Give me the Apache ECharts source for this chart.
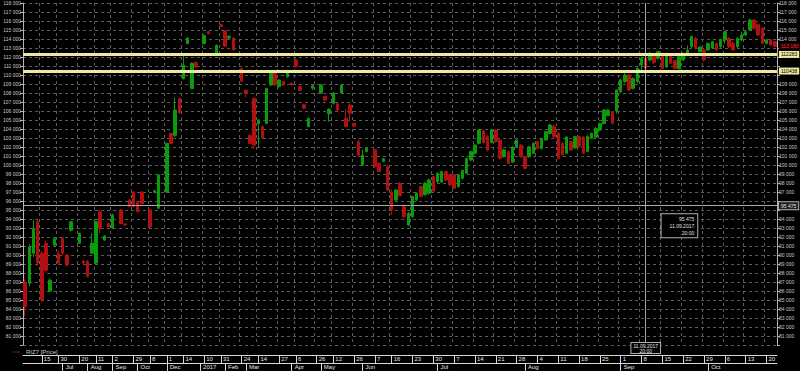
<!DOCTYPE html>
<html>
<head>
<meta charset="utf-8">
<script src="https://cdn.jsdelivr.net/npm/echarts@6/dist/echarts.min.js"></script>
<style>
html,body{margin:0;padding:0;background:#000;}
#chart{width:800px;height:371px;}
</style>
</head>
<body>
<div id="chart"></div>
<script>
const dates = [
'2016-06-06','2016-06-08','2016-06-09','2016-06-14','2016-06-15','2016-06-17','2016-06-21','2016-06-28','2016-06-30','2016-07-05',
'2016-07-08','2016-07-13','2016-07-18','2016-07-20','2016-07-26','2016-08-02','2016-08-05','2016-08-11','2016-08-17','2016-08-23',
'2016-08-30','2016-09-02','2016-09-08','2016-09-14','2016-09-20','2016-09-26','2016-09-29','2016-10-05','2016-10-12','2016-10-24',
'2016-11-08','2016-11-16','2016-11-22','2016-11-29','2016-12-01','2016-12-05','2016-12-07','2016-12-12','2016-12-14','2016-12-20',
'2016-12-26','2016-12-29','2017-01-09','2017-01-10','2017-01-16','2017-01-20','2017-01-26','2017-01-31','2017-02-03','2017-02-07',
'2017-02-10','2017-02-15','2017-02-24','2017-03-01','2017-03-03','2017-03-09','2017-03-14','2017-03-16','2017-03-20','2017-03-22',
'2017-03-24','2017-03-27','2017-03-29','2017-03-31','2017-04-04','2017-04-06','2017-04-10','2017-04-13','2017-04-18','2017-04-21',
'2017-04-26','2017-05-02','2017-05-04','2017-05-10','2017-05-12','2017-05-16','2017-05-18','2017-05-22','2017-05-24','2017-05-26',
'2017-05-31','2017-06-01','2017-06-02','2017-06-06','2017-06-07','2017-06-09','2017-06-13','2017-06-15','2017-06-16','2017-06-19',
'2017-06-20','2017-06-21','2017-06-22','2017-06-23','2017-06-26','2017-06-27','2017-06-28','2017-06-29','2017-06-30','2017-07-03',
'2017-07-04','2017-07-05','2017-07-06','2017-07-07','2017-07-10','2017-07-11','2017-07-12','2017-07-13','2017-07-14','2017-07-17',
'2017-07-18','2017-07-19','2017-07-20','2017-07-21','2017-07-24','2017-07-25','2017-07-26','2017-07-27','2017-07-28','2017-07-31',
'2017-08-01','2017-08-02','2017-08-03','2017-08-04','2017-08-07','2017-08-08','2017-08-09','2017-08-10','2017-08-11','2017-08-14',
'2017-08-15','2017-08-16','2017-08-17','2017-08-18','2017-08-21','2017-08-22','2017-08-23','2017-08-24','2017-08-25','2017-08-28',
'2017-08-29','2017-08-30','2017-08-31','2017-09-01','2017-09-04','2017-09-05','2017-09-06','2017-09-07','2017-09-08','2017-09-11',
'2017-09-12','2017-09-13','2017-09-14','2017-09-15','2017-09-18','2017-09-19','2017-09-20','2017-09-21','2017-09-22','2017-09-25',
'2017-09-26','2017-09-27','2017-09-28','2017-09-29','2017-10-02','2017-10-03','2017-10-04','2017-10-05','2017-10-06','2017-10-09',
'2017-10-10','2017-10-11','2017-10-12','2017-10-13','2017-10-16','2017-10-17','2017-10-18','2017-10-19','2017-10-20','2017-10-23',
'2017-10-24'
];
const opens = [
87000,86850,90200,93700,90200,91300,86000,91100,90200,91850,
90000,92750,null,91300,89300,89300,90200,89100,94800,91650,
93500,93000,null,95000,93450,96100,97000,95900,97000,null,
95000,96950,95200,null,97000,103500,103300,107400,109600,113500,
108500,111400,null,113500,114800,null,112400,115600,114900,114100,
114100,null,110700,108300,103300,107400,104600,104250,104630,108890,
110370,108704,109260,109800,109100,111667,108700,106700,104259,108519,
null,108000,107600,105700,106852,106800,108000,105200,106667,104600,
102600,100000,101500,null,101700,100185,100400,99800,97000,96111,
97963,95370,93333,94260,96111,97600,96700,96852,98704,98148,
98100,99260,98900,98900,97593,98518,99074,100556,101296,102407,
103800,103148,102500,103889,102778,100926,101480,100300,102037,102222,
100926,100926,101296,102593,101852,102778,103518,104300,103500,102407,
101300,102593,101900,103148,103100,101500,102963,103100,103889,104600,
105500,105926,106000,108148,109259,110000,108519,109259,111111,111852,
111667,112222,111852,112407,110900,112222,111600,110700,111667,112222,
113148,114074,112600,112778,112778,113000,113500,113148,113889,114074,
113518,113148,113889,114444,115000,116111,115600,115200,113500,113900,
113700
];
const closes = [
84250,90900,92960,89100,85000,88300,87200,91800,89100,90200,
88900,93700,null,92400,89100,87600,91300,93700,92960,92100,
93150,94450,null,93500,93330,95400,95400,94800,95700,null,
93150,97150,98900,null,102400,102400,106100,105800,111100,114100,
111300,110900,null,114400,114600,null,113300,115400,113200,114300,
112800,null,109300,107950,102400,102200,105000,103000,108500,110185,
108890,109444,108900,110200,108900,110926,108300,106300,105185,108800,
null,108900,107200,106200,108000,106100,108900,104260,105741,104300,
101111,101111,101850,null,99815,99259,100700,97222,95000,97222,
96600,94260,94630,96500,96852,96500,97960,98333,97100,99074,
99260,98333,97778,97407,98889,99400,100740,101480,102222,103889,
102500,101667,103889,102593,100741,101667,100185,102000,102778,100926,
99630,102037,102407,101852,102963,103700,104444,103148,100741,101111,
103100,101667,103148,102037,101296,103200,103518,104074,104630,106111,
106100,104630,108333,109444,110000,108333,109630,110741,111852,110741,
112407,111400,112593,110741,112400,111296,110741,112037,112407,112778,
114259,112963,113100,111667,113518,113700,112800,113889,114815,113148,
112778,114074,114444,114815,116111,115185,114444,113518,113900,113333,
113180
];
const lows = [
83200,86500,89800,88800,84800,88000,85900,90900,88900,90000,
88700,92600,null,91200,89000,87500,90100,89000,92400,91600,
93100,92900,null,93400,93300,95300,95300,94700,95600,null,
93000,96900,95100,null,96900,102300,103100,105700,109500,113400,
108400,110800,null,113400,114500,null,112300,115300,113100,114000,
112700,null,109200,107500,102300,101800,102000,102900,104500,108800,
108800,108600,108800,109700,108800,110800,108200,106200,104200,108300,
null,107900,107100,104800,106700,106000,107900,104200,104800,104200,
100900,99900,101400,null,99700,99200,100300,97100,94444,96000,
96500,94100,93200,94100,96000,96400,96600,96700,97000,98000,
98000,98200,97700,97300,97500,98400,99000,100400,101200,102300,
102300,101500,102400,102500,100600,100800,100100,100200,101900,100800,
99500,100800,101200,101700,101700,102700,103400,103000,100600,101000,
101200,101600,101800,101900,101200,101400,102900,103000,103800,104500,
105400,104500,105700,108000,109100,108200,108400,109100,110500,110600,
111500,111200,111700,110600,110800,111200,110600,110600,111600,112100,
113000,112800,112500,111500,112700,112900,112700,113000,113500,113000,
112700,113000,113800,114300,114900,115000,114300,113400,113400,113200,
113100
];
const highs = [
87300,91200,93900,93900,90500,91600,87400,92000,90500,92000,
90100,93800,null,92500,89400,89450,92400,93800,95000,92200,
93600,94600,null,95100,93500,96200,97100,96000,97100,null,
95100,97200,99000,null,102500,103600,107500,107500,112200,114200,
111400,111500,null,114500,114900,null,113400,115700,115000,114400,
114200,null,110800,108400,103400,107500,105100,104400,108600,110400,
110500,109500,109300,110300,109200,111800,108800,106800,105300,109000,
null,109000,107700,106300,108100,106900,109000,106200,106800,104700,
102800,101700,101900,null,101800,100300,100800,100000,97300,97300,
98100,95500,94800,96600,97000,97700,98100,98500,98800,99200,
99400,99400,99000,99000,99000,99500,100800,101600,102300,104000,
103900,103300,104000,104000,102900,101800,101600,102100,102900,102300,
101000,102100,102500,102700,103000,103800,104600,104500,103700,102500,
103200,102700,103200,103300,103200,103300,103600,104200,104700,106200,
106200,106000,108400,109600,110200,110100,109700,110900,112000,112000,
112600,112400,112700,112500,112500,112400,111700,112100,112500,113300,
114400,114200,113200,113000,113600,113800,113600,114000,114900,114200,
113700,114200,114800,114900,116300,116200,115700,115300,114000,114000,
113800
];
const dayTickDates = ['2016-06-15','2016-06-30','2016-07-20','2016-08-11','2016-09-02','2016-09-29','2016-11-08','2016-12-01','2016-12-14',
'2017-01-10','2017-01-31','2017-02-24','2017-03-14','2017-03-27','2017-04-06','2017-04-26','2017-05-12','2017-05-26','2017-06-07',
'2017-06-16','2017-06-23','2017-06-30','2017-07-07','2017-07-14','2017-07-21','2017-07-28','2017-08-04','2017-08-11','2017-08-18',
'2017-08-25','2017-09-01','2017-09-08','2017-09-15','2017-09-22','2017-09-29','2017-10-06','2017-10-13','2017-10-20'];
const monthTickDates = ['2016-07-05','2016-08-02','2016-09-02','2016-10-05','2016-12-01','2017-01-09','2017-02-03','2017-03-01',
'2017-04-04','2017-05-02','2017-06-01','2017-07-03','2017-08-01','2017-09-01','2017-10-02'];
const monthNames = ['Jan','Feb','Mar','Apr','May','Jun','Jul','Aug','Sep','Oct','Nov','Dec'];
const levelLines = [112283, 110438];
const lastPrice = 113180;
const cursorDate = '2017-09-11';
const cursorValue = 95475;
const seriesName = 'RIZ7 [Price]';

const daySet = new Set(dayTickDates);
const monthSet = new Set(monthTickDates);
const candles = opens.map((o, i) => o == null ? '-' : [o, closes[i], lows[i], highs[i]]);
const fmtNum = v => Math.floor(v / 1000) + ' ' + String(v % 1000).padStart(3, '0');
const markers = levelLines.concat([lastPrice, cursorValue]);
const FONT = 'Liberation Sans';
const gridCol = '#5c5c5c';
const axisCol = '#b4b4b4';

const yAxisBase = {
  type: 'value', min: 80000, max: 118000, interval: 1000,
  axisLine: {show: true, lineStyle: {color: axisCol}},
  axisTick: {show: true, length: 3, lineStyle: {color: axisCol}},
};
const labelBase = {color: '#c8c8c8', fontSize: 5, fontFamily: FONT, margin: 2};

const chart = echarts.init(document.getElementById('chart'), null, {renderer: 'svg'});
chart.setOption({
  backgroundColor: '#000',
  animation: false,
  grid: {left: 21, right: 20, top: 3, height: 342},
  legend: {
    left: 8, top: 344, itemWidth: 7, itemHeight: 1, itemGap: 4, icon: 'rect',
    itemStyle: {color: '#c00000', borderWidth: 0},
    data: [seriesName],
    textStyle: {color: '#c8c8c8', fontSize: 6, fontFamily: FONT, padding: [0, 0, 0, 1]}
  },
  xAxis: [
    {
      type: 'category', data: dates, boundaryGap: true,
      axisLine: {show: false}, axisTick: {show: false}, axisLabel: {show: false},
      splitLine: {show: true, interval: (i) => daySet.has(dates[i]),
        lineStyle: {color: gridCol, type: [3, 3], width: 1}}
    },
    {
      type: 'category', data: dates, boundaryGap: true, position: 'bottom', offset: 10,
      axisLine: {show: true, lineStyle: {color: '#d8d8d8'}},
      axisTick: {show: true, alignWithLabel: true, length: 8, inside: false,
        interval: (i) => daySet.has(dates[i]), lineStyle: {color: '#d8d8d8'}},
      axisLabel: {show: true, interval: (i) => daySet.has(dates[i]),
        formatter: v => String(+v.slice(8)), align: 'left', margin: 1,
        padding: [0, 0, 0, 2], color: '#e6e6e6', fontSize: 6, fontFamily: FONT},
      splitLine: {show: false}
    },
    {
      type: 'category', data: dates, boundaryGap: true, position: 'bottom', offset: 18,
      axisLine: {show: true, lineStyle: {color: '#d8d8d8'}},
      axisTick: {show: true, alignWithLabel: true, length: 8, inside: false,
        interval: (i) => monthSet.has(dates[i]), lineStyle: {color: '#d8d8d8'}},
      axisLabel: {show: true, interval: (i) => monthSet.has(dates[i]),
        formatter: v => { const m = +v.slice(5, 7); return m === 1 ? v.slice(0, 4) : monthNames[m - 1]; },
        align: 'left', margin: 1, padding: [0, 0, 0, 3], color: '#e6e6e6', fontSize: 6, fontFamily: FONT},
      splitLine: {show: false}
    }
  ],
  yAxis: [
    Object.assign({}, yAxisBase, {position: 'left',
      axisLabel: Object.assign({}, labelBase, {formatter: v => v < 81000 ? '' : fmtNum(v)}),
      splitLine: {show: true, lineStyle: {color: gridCol, type: [3, 3], width: 1}}}),
    Object.assign({}, yAxisBase, {position: 'right', splitLine: {show: false},
      axisLabel: Object.assign({}, labelBase, {formatter: v =>
        (v < 81000 || markers.some(m => Math.abs(m - v) < 700)) ? '' : fmtNum(v)})})
  ],
  series: [{
    name: seriesName,
    type: 'candlestick',
    xAxisIndex: 0, yAxisIndex: 0,
    data: candles,
    barWidth: 3,
    itemStyle: {color: '#0a9a0a', color0: '#b01010', borderColor: '#0a9a0a', borderColor0: '#b01010', borderWidth: 1},
    markLine: {
      silent: true, symbol: ['none', 'none'], animation: false,
      data: [
        {yAxis: cursorValue, lineStyle: {color: '#a8a8a8', width: 1, type: 'solid'},
          label: {show: true, position: 'end', distance: 2, formatter: fmtNum(cursorValue), color: '#e0e0e0',
            fontSize: 5, fontFamily: FONT, backgroundColor: '#202020', borderColor: '#b0b0b0', borderWidth: 1, padding: [1, 2]}},
        {xAxis: cursorDate, lineStyle: {color: '#a8a8a8', width: 1, type: 'solid'},
          label: {show: true, position: 'start', distance: -2, formatter: '11.09.2017\n20:00', color: '#e0e0e0',
            fontSize: 5, fontFamily: FONT, lineHeight: 5, align: 'center', backgroundColor: '#000', borderColor: '#b0b0b0', borderWidth: 1, padding: [0, 2]}},
        ...levelLines.map(v => ({yAxis: v, lineStyle: {color: '#eee8a0', width: 3, type: 'solid'},
          label: {show: true, position: 'end', distance: 2, formatter: String(v), color: '#000',
            fontSize: 5, fontFamily: FONT, backgroundColor: '#eee8a0', padding: [1, 2]}})),
        {yAxis: lastPrice, lineStyle: {color: 'rgba(0,0,0,0)', width: 0},
          label: {show: true, position: 'end', distance: 2, formatter: fmtNum(lastPrice), color: '#ff2a2a',
            fontSize: 5, fontFamily: FONT, backgroundColor: '#1a0000', padding: [1, 2]}}
      ]
    },
    markPoint: {
      silent: true, animation: false,
      data: [{coord: [cursorDate, cursorValue], symbol: 'rect', symbolSize: 1, itemStyle: {color: 'rgba(0,0,0,0)'},
        label: {show: true, position: [52, 9], align: 'right', verticalAlign: 'top',
          formatter: fmtNum(cursorValue) + '\n11.09.2017\n20:00', color: '#e0e0e0', fontSize: 5, fontFamily: FONT,
          lineHeight: 7, backgroundColor: '#000', borderColor: '#b0b0b0', borderWidth: 1, padding: [1, 3, 1, 8]}}]
    }
  }]
});
</script>
</body>
</html>
